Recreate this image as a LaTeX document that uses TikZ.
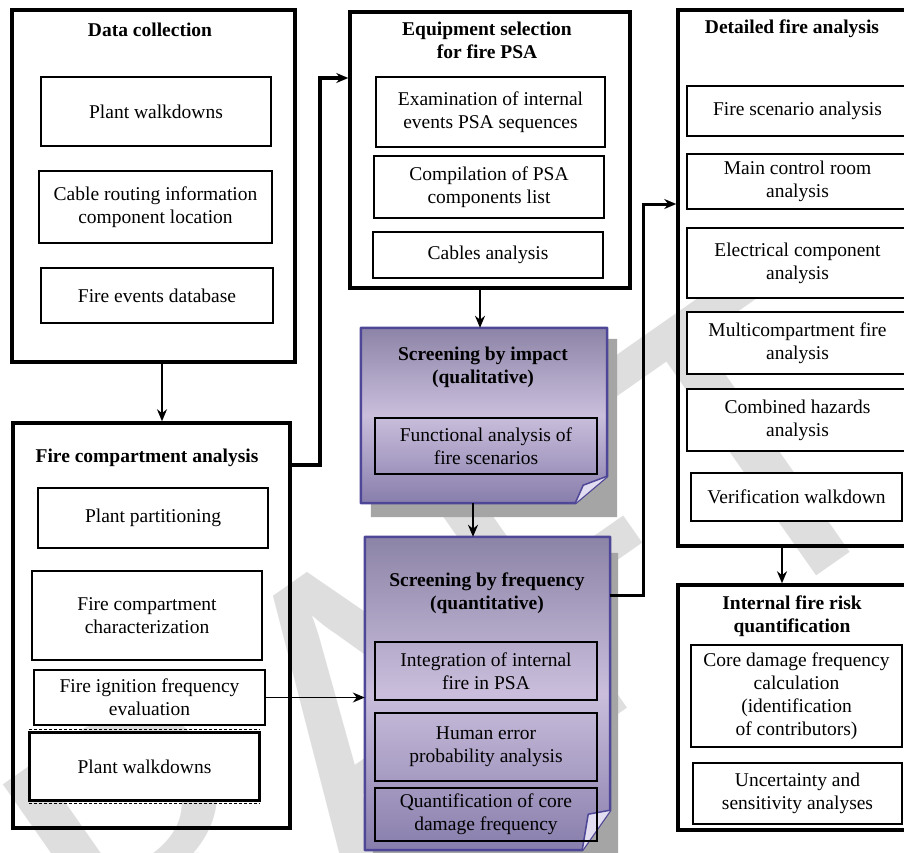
\documentclass[tikz,border=0pt]{standalone}
\usepackage{fontspec}
\setmainfont{Liberation Serif}
\newfontfamily\wmfont{Carlito}
\usetikzlibrary{arrows.meta,calc}
\definecolor{wmgray}{RGB}{222,222,222}
\definecolor{pedge}{RGB}{78,70,150}
\definecolor{ptop}{RGB}{140,132,167}
\definecolor{pmid}{RGB}{202,190,220}
\definecolor{pbot}{RGB}{136,126,172}
\definecolor{pflap}{RGB}{226,221,240}
\definecolor{shadowgray}{RGB}{165,165,165}
\newcommand{\txtsize}{\fontsize{19.5pt}{23pt}\selectfont}
\tikzset{
	bigbox/.style={draw,line width=3.5pt,inner sep=0pt},
	inbox/.style={draw,fill=white,line width=1.5pt,align=center,inner sep=0pt,font=\txtsize},
	inpbox/.style={draw,line width=1.5pt,align=center,inner sep=0pt,font=\txtsize},
	ttl/.style={align=center,font=\txtsize\bfseries},
	pbox/.style={draw=pedge,line width=2.5pt,line join=round,top color=ptop,bottom color=pbot,middle color=pmid},
	flap/.style={draw=pedge,line width=1.5pt,fill=pflap,line join=round},
	arr/.style={-{Stealth[length=12pt,width=10pt]},line width=1.8pt},
	wm/.style={rotate=35,anchor=base west,text=wmgray,inner sep=0pt,font=\wmfont\fontsize{460pt}{460pt}\selectfont}
}
\begin{document}
\begin{tikzpicture}[x=1pt,y=-1pt]
	\useasboundingbox (0,0) rectangle (904,852);
	\node[wm] (wm) at (-86,1208) {DRAFT};% chữ chìm
	% khung lớn
	\node[bigbox,minimum width=283pt,minimum height=352pt] (dc) at (153.5,186) {};
	\node[bigbox,minimum width=277pt,minimum height=405pt] (fc) at (151.5,625.5) {};
	\node[bigbox,minimum width=280pt,minimum height=276pt] (eq) at (490,150) {};
	\node[bigbox,minimum width=234pt,minimum height=536pt] (da) at (795,278) {};
	\node[bigbox,minimum width=234pt,minimum height=245pt] (ir) at (795,707.5) {};
	% khung tím có bóng và góc gấp
	\node[minimum width=246pt,minimum height=175pt,inner sep=0pt] (si) at (484,415.5) {};
	\node[minimum width=245pt,minimum height=313pt,inner sep=0pt] (sf) at (487.5,693.5) {};
	\fill[shadowgray] ($(si.north west)+(10,11)$) rectangle ($(si.south east)+(10,14)$)
		($(sf.north west)+(8,16)$) rectangle ($(sf.south east)+(8,14)$);
	\path[pbox] (si.north west) -- (si.north east) -- ($(si.south east)+(0,-27)$)
		-- ($(si.south east)+(-32,0)$) -- (si.south west) -- cycle;
	\path[pbox] (sf.north west) -- (sf.north east) -- ($(sf.south east)+(0,-40)$)
		-- ($(sf.south east)+(-28,0)$) -- (sf.south west) -- cycle;
	\draw[flap] ($(si.south east)+(-32,0)$) -- ($(si.south east)+(-24,-18)$) -- ($(si.south east)+(0,-27)$);
	\draw[flap] ($(sf.south east)+(-28,0)$) -- ($(sf.south east)+(-22,-36)$) -- ($(sf.south east)+(0,-40)$);
	% tiêu đề
	\node[ttl] (dct) at (150,30) {Data collection};
	\node[ttl] (fct) at (147,458) {Fire compartment analysis};
	\node[ttl] (eqt) at (487,40) {Equipment selection\\for fire PSA};
	\node[ttl] (sit) at (483,367) {Screening by impact\\(qualitative)};
	\node[ttl] (sft) at (487,593) {Screening by frequency\\(quantitative)};
	\node[ttl] (dat) at (792,29) {Detailed fire analysis};
	\node[ttl] (irt) at (792,616) {Internal fire risk\\quantification};
	% ô trắng bên trong: tên/x/y/rộng/cao/chữ
	\foreach \nm/\cx/\cy/\w/\h/\txt in {
		dc1/156/111.5/230/69/{Plant walkdowns},
		dc2/155.5/207/233/72/{Cable routing information\\component location},
		dc3/157/295.5/232/55/{Fire events database},
		fc1/153/518/230/60/{Plant partitioning},
		fc2/147/615.5/230/89/{Fire compartment\\characterization},
		fc3/149.5/697.5/231/55/{Fire ignition frequency\\evaluation},
		fc4/144.5/766.5/229/67/{Plant walkdowns},
		eq1/490.5/112/229/70/{Examination of internal\\events PSA sequences},
		eq2/489/187/230/62/{Compilation of PSA\\components list},
		eq3/488/255/230/46/{Cables analysis},
		da1/797.5/111/221/50/{Fire scenario analysis},
		da2/797.5/181.5/221/55/{Main control room\\analysis},
		da3/797.5/263/221/70/{Electrical component\\analysis},
		da4/797.5/343/221/62/{Multicompartment fire\\analysis},
		da5/797.5/420/221/62/{Combined hazards\\analysis},
		da6/796.5/497/211/48/{Verification walkdown},
		ir1/796.5/696/211/102/{Core damage frequency\\calculation\\(identification\\of contributors)},
		ir2/797.5/793.5/209/61/{Uncertainty and\\sensitivity analyses}}
	\node[inbox,minimum width=\w pt,minimum height=\h pt] (\nm) at (\cx,\cy) {\txt};
	\draw[line width=2.5pt] (fc4.north west) rectangle (fc4.south east);
	\draw[line width=0.8pt,dash pattern=on 3pt off 2pt] ($(fc4.north west)+(0,-3)$) -- ($(fc4.north east)+(0,-3)$)
		($(fc4.south west)+(0,3)$) -- ($(fc4.south east)+(0,3)$);
	% ô trong khung tím
	\foreach \nm/\cy/\h/\txt in {si1/446/56/{Functional analysis of\\fire scenarios},
		sf1/671/58/{Integration of internal\\fire in PSA},
		sf2/747/68/{Human error\\probability analysis},
		sf3/814.5/53/{Quantification of core\\damage frequency}}
	\node[inpbox,minimum width=222pt,minimum height=\h pt] (\nm) at (486,\cy) {\txt};
	% mũi tên
	\draw[arr] (dc.south -| 162,0) -- (fc.north -| 162,0);
	\draw[arr,line width=3.5pt] (fc.east |- 0,465) -- (320,465) |- (eq.west |- 0,78);
	\draw[arr,line width=2.5pt] (eq.south -| 480,0) -- (si.north -| 480,0);
	\draw[arr,line width=2.2pt] (si.south -| 473,0) -- (sf.north -| 473,0);
	\draw[arr,line width=1.2pt] (fc3.east) -- (sf.west |- fc3.east);
	\draw[arr,line width=3pt] (sf.east |- 0,595) -- (643,595) |- (da.west |- 0,204);
	\draw[arr,line width=2pt] (da.south -| 782,0) -- (ir.north -| 782,0);
\end{tikzpicture}
\end{document}
